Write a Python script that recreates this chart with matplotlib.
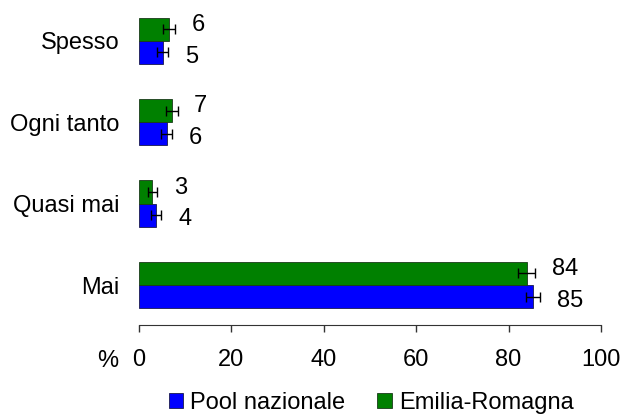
import matplotlib
matplotlib.use("Agg")
import matplotlib.pyplot as plt
import numpy as np

plt.rcParams['font.family'] = ['Liberation Sans', 'DejaVu Sans']

# categories top -> bottom
categories = ["Spesso", "Ogni tanto", "Quasi mai", "Mai"]
pool = [5.1, 6.0, 3.7, 85.3]          # Pool nazionale
pool_err = [1.2, 1.25, 1.15, 1.6]
er = [6.5, 7.1, 2.9, 83.9]            # Emilia-Romagna
er_err = [1.25, 1.25, 1.05, 1.8]
pool_lbl = ["5", "6", "4", "85"]
er_lbl = ["6", "7", "3", "84"]

FS = 17

fig = plt.figure(figsize=(6.26, 4.17), dpi=100)
ax = fig.add_axes([0.222, 0.2206, 0.738, 0.7794])

y = np.arange(len(categories))[::-1].astype(float)
h = 0.285

ekw = dict(ecolor="black", elinewidth=1, capsize=3.5, capthick=1)
ax.barh(y - h/2, pool, height=h, color="#0000FF", edgecolor="#1a1a4d",
        linewidth=0.6, xerr=pool_err, error_kw=ekw, label="Pool nazionale")
ax.barh(y + h/2, er, height=h, color="#008000", edgecolor="#1a3a1a",
        linewidth=0.6, xerr=er_err, error_kw=ekw, label="Emilia-Romagna")

for yi, v, e, t in zip(y, pool, pool_err, pool_lbl):
    ax.annotate(t, (v + e, yi - h/2), xytext=(12, -3), textcoords="offset points",
                va="center", ha="left", fontsize=FS)
for yi, v, e, t in zip(y, er, er_err, er_lbl):
    ax.annotate(t, (v + e, yi + h/2), xytext=(12, 3), textcoords="offset points",
                va="center", ha="left", fontsize=FS)

ax.set_xlim(0, 100)
ax.set_ylim(-0.49, 3.5)
ax.set_xticks([0, 20, 40, 60, 80, 100])
ax.set_yticks(y)
ax.set_yticklabels(categories)
ax.tick_params(axis="y", length=0, pad=14, labelsize=FS)
ax.tick_params(axis="x", length=5, width=1, pad=12, labelsize=FS, color="#333333")
for s in ["top", "right", "left"]:
    ax.spines[s].set_visible(False)
ax.spines["bottom"].set_color("#333333")

ax.annotate("%", (0, 0), xycoords="axes fraction", xytext=(-15, -18),
            textcoords="offset points", ha="right", va="top", fontsize=FS)

handles, labels = ax.get_legend_handles_labels()
fig.legend(handles, labels, loc="center", bbox_to_anchor=(0.593, 0.034),
           ncol=2, frameon=False, fontsize=FS, handlelength=0.62, handleheight=0.62,
           handletextpad=0.3, columnspacing=1.35, borderpad=0)

fig.savefig("out.png", dpi=100)
